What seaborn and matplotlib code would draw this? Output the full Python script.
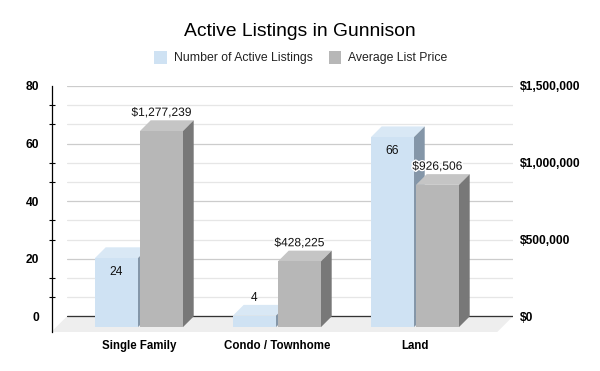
import matplotlib
matplotlib.use("Agg")
import matplotlib.pyplot as plt
import seaborn as sns
import pandas as pd
from matplotlib.patches import Polygon, Patch, Rectangle
from matplotlib.ticker import FixedLocator
from matplotlib.transforms import Affine2D, IdentityTransform
import matplotlib.patheffects as pe

categories = ["Single Family", "Condo / Townhome", "Land"]
listings = [24, 4, 66]
prices = [1277239, 428225, 926506]
listing_labels = ["24", "4", "66"]
price_labels = ["$1,277,239", "$428,225", "$926,506"]
series_names = ["Number of Active Listings", "Average List Price"]
left_ticks = [0, 20, 40, 60, 80]
right_ticks = [0, 500000, 1000000, 1500000]
right_tick_labels = ["$0", "$500,000", "$1,000,000", "$1,500,000"]

W, H = 600, 371
BLUE, BLUE_TOP, BLUE_SIDE = "#cfe2f3", "#d9e8f5", "#8496a8"
GRAY, GRAY_TOP, GRAY_SIDE = "#b7b7b7", "#c5c5c5", "#787878"

sns.set_theme(style="white")
plt.rcParams["font.family"] = ["Liberation Sans", "DejaVu Sans"]
FS = 8.64

fig = plt.figure(figsize=(W / 100, H / 100), dpi=100)
PX_L, PX_R, PX_T, PX_B = 67.0, 513.0, 86.0, 332.0
ZERO_PX = 316.3
ax = fig.add_axes([PX_L / W, 1 - PX_B / H, (PX_R - PX_L) / W, (PX_B - PX_T) / H])
ax2 = ax.twinx()

df_l = pd.DataFrame({"cat": categories, "v": listings, "s": series_names[0]})
df_p = pd.DataFrame({"cat": categories, "v": prices, "s": series_names[1]})
pal = {series_names[0]: BLUE, series_names[1]: GRAY}
for a, d in ((ax, df_l), (ax2, df_p)):
    sns.barplot(data=d, x="cat", y="v", hue="s", hue_order=series_names, palette=pal,
                order=categories, width=0.652, gap=0.044, saturation=1, dodge=True,
                legend=False, errorbar=None, linewidth=0, ax=a)

# scales
px_per_cat = 138.0
x_left = -(139.0 - PX_L) / px_per_cat
x_right = 2 + (PX_R - 415.0) / px_per_cat
ppu = (ZERO_PX - PX_T) / 80.0
ymin = -(PX_B - ZERO_PX) / ppu
ax.set_xlim(x_left, x_right)
ax.set_ylim(ymin, 80)
ax2.set_ylim(ymin * 1500000 / 80, 1500000)
ax2.set_xlim(x_left, x_right)

# axes styling
for s in ("top", "right", "bottom"):
    ax.spines[s].set_visible(False)
for s in ax2.spines.values():
    s.set_visible(False)
ax.spines["left"].set_position(("outward", 15.5 * 0.72))
ax.spines["left"].set_color("black")
ax.spines["left"].set_linewidth(0.9)
ax.set_xlabel("")
ax.set_ylabel("")
ax2.set_xlabel("")
ax2.set_ylabel("")
ax.set_yticks(left_ticks)
ax.set_yticklabels([str(t) for t in left_ticks], fontsize=FS, fontweight="bold", color="black")
minor = [v * 80 / 12 for v in range(1, 12) if v % 3]
ax.yaxis.set_minor_locator(FixedLocator(minor))
ax.tick_params(axis="y", which="major", length=0, pad=9.0)
ax.tick_params(axis="y", which="minor", left=True, length=4.3, width=0.8, direction="inout", color="black")
ax.set_xticks(range(len(categories)))
ax.set_xticklabels(categories, fontsize=8.3, fontweight="bold", color="black")
ax.tick_params(axis="x", length=0, pad=6.0)
ax2.set_yticks(right_ticks)
ax2.set_yticklabels(right_tick_labels, fontsize=FS, fontweight="bold", color="black")
ax2.tick_params(axis="y", length=0, pad=5.0)
ax.set_axisbelow(True)
ax.grid(True, axis="y", which="major", color="#cccccc", linewidth=0.9, zorder=0.5)
ax.grid(True, axis="y", which="minor", color="#e6e6e6", linewidth=0.9, zorder=0.5)
ax.axhline(0, color="#333333", linewidth=0.9, zorder=0.8)
ax.patch.set_visible(False)

# the bars seaborn drew, before any extra faces are added
bars_l = [p for p in ax.patches if isinstance(p, Rectangle) and p.get_width() > 0 and p.get_height() > 0]
bars_p = [p for p in ax2.patches if isinstance(p, Rectangle) and p.get_width() > 0 and p.get_height() > 0]

# floor
fig.canvas.draw()
ph = ax.transData.transform([(x_left, 0), (x_right, 0)])
depth = 10.7
drop = 10.8
xa, ya = ph[0]
xb, yb = ph[1]
floor_h = ya - (H - PX_B)
ax.add_patch(Polygon([(xa, ya), (xb, yb), (xb - floor_h, yb - floor_h), (xa - floor_h, ya - floor_h)],
                     closed=True, facecolor="#eeeeee", edgecolor="none",
                     transform=IdentityTransform(), zorder=0.4, clip_on=False))

# oblique faces
def extrude(a, bars, top_c, side_c):
    shift = a.transData + Affine2D().translate(0, -drop)
    for p in bars:
        x0, y0 = p.get_x(), p.get_y()
        x1, y1 = x0 + p.get_width(), y0 + p.get_height()
        (dx0, dy0), (dx1, dy1) = shift.transform([(x0, y0), (x1, y1)])
        a.add_patch(Polygon([(dx0, dy1), (dx1, dy1), (dx1 + depth, dy1 + depth), (dx0 + depth, dy1 + depth)],
                            closed=True, facecolor=top_c, edgecolor="none",
                            transform=IdentityTransform(), zorder=3, clip_on=False))
        a.add_patch(Polygon([(dx1, dy0), (dx1 + depth, dy0 + depth), (dx1 + depth, dy1 + depth), (dx1, dy1)],
                            closed=True, facecolor=side_c, edgecolor="none",
                            transform=IdentityTransform(), zorder=3, clip_on=False))
        p.set_transform(shift)
        p.set_zorder(3.5)
        p.set_linewidth(0)

extrude(ax, bars_l, BLUE_TOP, BLUE_SIDE)
extrude(ax2, bars_p, GRAY_TOP, GRAY_SIDE)

# data labels
for p, v, t in zip(bars_l, listings, listing_labels):
    off = -25.0 if v > 10 else 6.8
    ax.annotate(t, xy=(p.get_x() + p.get_width() / 2, v), xytext=(0, off * 0.72), textcoords="offset points",
                ha="center", va="center", fontsize=FS, color="#111111", zorder=6)
for p, v, t in zip(bars_p, prices, price_labels):
    ax2.annotate(t, xy=(p.get_x() + p.get_width() / 2, v), xytext=(0, 7.3 * 0.72), textcoords="offset points",
                 ha="center", va="center", fontsize=FS, color="#111111", zorder=6,
                 path_effects=[pe.withStroke(linewidth=2, foreground="white")])

fig.text(300 / W, 1 - 31 / H, "Active Listings in Gunnison", ha="center", va="center",
         fontsize=13.9, color="black")
handles = [Patch(facecolor=BLUE, edgecolor="none"), Patch(facecolor=GRAY, edgecolor="none")]
fig.legend(handles, series_names, ncol=2, loc="center", bbox_to_anchor=(301 / W, 1 - 57.5 / H),
           frameon=False, fontsize=8.8, handlelength=1.0, handleheight=1.35, handletextpad=0.6,
           columnspacing=1.3, labelcolor="#222222", borderpad=0, borderaxespad=0)

fig.savefig("out.png", dpi=100, facecolor="white")
